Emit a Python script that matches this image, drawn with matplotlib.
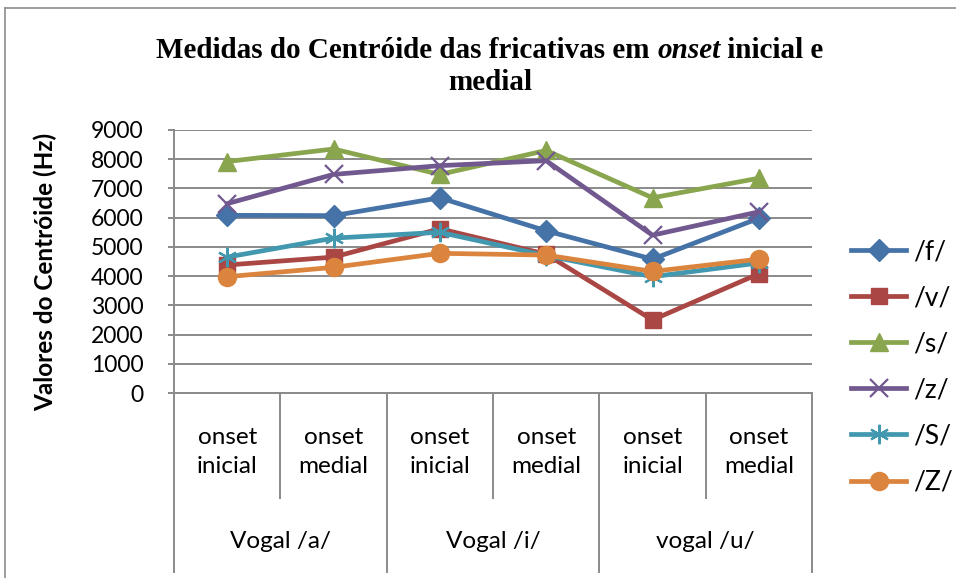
import matplotlib
matplotlib.use("Agg")
import matplotlib.pyplot as plt
from matplotlib.lines import Line2D
import matplotlib.transforms as mtransforms

# ---------------------------------------------------------------------------
# data
# ---------------------------------------------------------------------------
positions = ["onset\ninicial", "onset\nmedial"] * 3
vowels = ["Vogal /a/", "Vogal /i/", "vogal /u/"]
yticks = [0, 1000, 2000, 3000, 4000, 5000, 6000, 7000, 8000, 9000]

f_vals = [6080, 6070, 6680, 5550, 4580, 5980]
v_vals = [4380, 4650, 5620, 4750, 2500, 4080]
s_vals = [7920, 8350, 7480, 8300, 6680, 7350]
z_vals = [6480, 7480, 7780, 7950, 5400, 6200]
S_vals = [4650, 5300, 5500, 4700, 3980, 4450]
Z_vals = [3980, 4300, 4780, 4720, 4160, 4580]

series = [
    ("/f/", f_vals, "#4572A7", "D", 11),
    ("/v/", v_vals, "#AA4643", "s", 12),
    ("/s/", s_vals, "#89A54E", "^", 13),
    ("/z/", z_vals, "#71588F", "x", 13),
    ("/S/", S_vals, "#4198AF", (6, 2, 0), 14),
    ("/Z/", Z_vals, "#DB843D", "o", 13),
]

W, H = 956, 578
fig = plt.figure(figsize=(W / 100, H / 100), dpi=100)
plt.rcParams["font.family"] = ["Lato", "DejaVu Sans"]

# outer chart border (top + left visible)
fig.add_artist(Line2D([5 / W, 5 / W], [0, 1 - 8 / H], color="#8c8c8c", lw=1.2))
fig.add_artist(Line2D([5 / W, 1], [1 - 8 / H, 1 - 8 / H], color="#8c8c8c", lw=1.2))

left, right, top, bottom = 174, 812, 130, 393
ax = fig.add_axes([left / W, 1 - bottom / H, (right - left) / W, (bottom - top) / H])

x = list(range(len(positions)))
for name, vals, color, marker, ms in series:
    if marker in ("x",) or isinstance(marker, tuple):
        ax.plot(x, vals, color=color, lw=3.4, marker=marker, ms=ms, mew=1.6,
                label=name, zorder=3)
    else:
        ax.plot(x, vals, color=color, lw=3.4, marker=marker, ms=ms,
                mec=color, label=name, zorder=3)

ax.set_xlim(-0.5, len(positions) - 0.5)
ax.set_ylim(0, 9000)
ax.set_yticks(yticks)
ax.set_yticklabels([str(t) for t in yticks], fontsize=16.5)
ax.yaxis.grid(True, color="#8a8a8a", lw=1.4)
ax.set_axisbelow(True)
ax.tick_params(axis="y", length=4, width=1.4, color="#8a8a8a", pad=18)
ax.set_xticks([])
for side in ("top", "right"):
    ax.spines[side].set_visible(False)
for side in ("left", "bottom"):
    ax.spines[side].set_color("#8a8a8a")
    ax.spines[side].set_linewidth(1.4)

# multi-level category axis
trans = mtransforms.blended_transform_factory(ax.transData, ax.transAxes)
h = bottom - top
short_y = -(498 - bottom) / h
long_y = -(572 - bottom) / h
for xv in (-0.5, 1.5, 3.5, 5.5):
    ax.plot([xv, xv], [0, long_y], transform=trans, color="#8a8a8a", lw=1.4,
            clip_on=False)
for xv in (0.5, 2.5, 4.5):
    ax.plot([xv, xv], [0, short_y], transform=trans, color="#8a8a8a", lw=1.4,
            clip_on=False)
for xv, lab in zip(x, positions):
    ax.text(xv, -(452 - bottom) / h, lab, transform=trans, ha="center",
            va="center", fontsize=17.5, linespacing=1.5)
for i, lab in enumerate(vowels):
    ax.text(2 * i + 0.5, -(541 - bottom) / h, lab, transform=trans,
            ha="center", va="center", fontsize=17.5)

fig.text(45 / W, 1 - 272 / H, "Valores do Centróide (Hz)", rotation=90,
         ha="center", va="center", fontsize=17.5, fontweight="bold")

# title with italic "onset"
fig.canvas.draw()
renderer = fig.canvas.get_renderer()
tfont = dict(family="Liberation Serif", fontsize=21, fontweight="bold")
parts = [("Medidas do Centróide das fricativas em ", "normal"),
         ("onset", "italic"),
         (" inicial e", "normal")]
pieces = []
total = 0
for txt, style in parts:
    t = fig.text(0, 0, txt, style=style, **tfont)
    w = t.get_window_extent(renderer).width
    pieces.append((t, w))
    total += w
xs = 490 - total / 2
for t, w in pieces:
    t.set_position((xs / W, 1 - 50 / H))
    t.set_va("center")
    xs += w
fig.text(490 / W, 1 - 82 / H, "medial", ha="center", va="center", **tfont)

leg = fig.legend(loc="center left", bbox_to_anchor=(851 / W, 1 - 367 / H),
                 frameon=False, fontsize=19, handlelength=2.1,
                 handletextpad=0.25, labelspacing=0.8, borderpad=0,
                 borderaxespad=0)

fig.savefig("out.png", dpi=100)
